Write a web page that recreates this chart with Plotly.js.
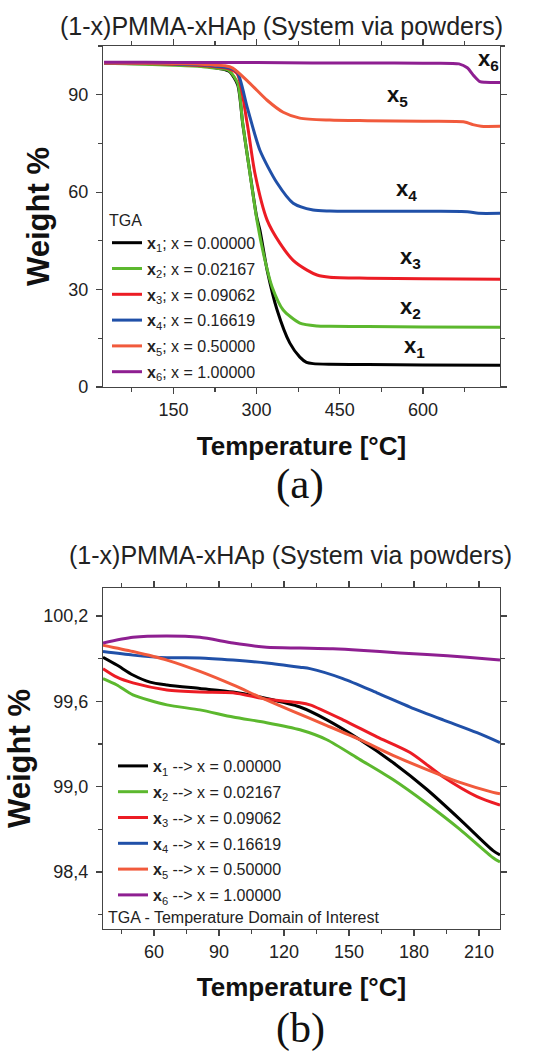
<!DOCTYPE html>
<html>
<head>
<meta charset="utf-8">
<script src="https://cdn.plot.ly/plotly-3.0.1.min.js"></script>
<style>html,body{margin:0;padding:0;background:#fff;}#chart{width:533px;height:1051px;}</style>
</head>
<body>
<div id="chart"></div>
<script>
// ---------- DATA ----------
var seriesNames = ['x1', 'x2', 'x3', 'x4', 'x5', 'x6'];
var subIdx = ['1', '2', '3', '4', '5', '6'];
var fractions = ['0.00000', '0.02167', '0.09062', '0.16619', '0.50000', '1.00000'];
var colors = ['#000000', '#5cb82e', '#ec1c24', '#2050a8', '#f15a3c', '#8e1f91'];

// (a) full TGA range
var tA_x1 = [25, 100, 150, 200, 225, 245, 252, 266, 275, 288, 300, 306, 319, 337, 360, 378, 390, 402, 432, 500, 600, 740];
var wA_x1 = [99.7, 99.5, 99.3, 98.9, 98.3, 97.6, 97.0, 93.0, 81.0, 66.0, 52.5, 48.3, 36.0, 23.7, 13.5, 9.2, 7.6, 7.2, 7.0, 6.9, 6.8, 6.7];
var tA_x2 = [25, 100, 150, 200, 225, 245, 252, 266, 275, 288, 301, 315, 328, 348, 378, 409, 432, 500, 600, 740];
var wA_x2 = [99.7, 99.4, 99.1, 98.7, 98.2, 97.8, 97.2, 93.5, 81.2, 65.8, 51.0, 39.1, 30.8, 23.7, 19.7, 18.8, 18.7, 18.6, 18.5, 18.4];
var tA_x3 = [25, 100, 150, 200, 225, 250, 265, 283, 297, 319, 342, 366, 391, 409, 432, 500, 600, 740];
var wA_x3 = [99.8, 99.6, 99.4, 99.0, 98.6, 98.0, 96.5, 81.2, 65.8, 51.4, 44.3, 39.0, 36.0, 34.5, 33.8, 33.5, 33.3, 33.2];
var tA_x4 = [25, 100, 150, 200, 225, 250, 265, 283, 306, 337, 366, 402, 432, 500, 600, 680, 700, 740];
var wA_x4 = [99.8, 99.7, 99.5, 99.2, 98.8, 98.3, 97.0, 86.2, 72.9, 62.8, 56.6, 54.5, 54.2, 54.1, 54.1, 54.0, 53.5, 53.5];
var tA_x5 = [25, 100, 150, 200, 225, 243, 257, 288, 319, 348, 378, 432, 500, 600, 675, 690, 705, 740];
var wA_x5 = [99.8, 99.7, 99.6, 99.4, 99.1, 98.9, 98.2, 93.5, 88.3, 84.6, 82.8, 82.2, 82.0, 81.8, 81.6, 80.8, 80.3, 80.3];
var tA_x6 = [25, 100, 200, 300, 400, 500, 600, 665, 680, 692, 703, 712, 740];
var wA_x6 = [100.0, 100.0, 99.9, 99.9, 99.8, 99.8, 99.7, 99.5, 98.3, 95.8, 94.0, 93.8, 93.8];

// (b) temperature domain of interest
var tB_x1 = [36.5, 42.9, 50.3, 58.2, 66, 81.2, 96.5, 112, 127.4, 139.8, 155.1, 170.3, 186, 201.2, 216.5, 219.7];
var wB_x1 = [99.91, 99.855, 99.785, 99.735, 99.715, 99.69, 99.665, 99.62, 99.56, 99.47, 99.33, 99.17, 98.98, 98.77, 98.55, 98.52];
var tB_x2 = [36.5, 42.9, 50.3, 66, 81.2, 96.5, 112, 127.4, 139.8, 155.1, 170.3, 186, 201.2, 216.5, 219.7];
var wB_x2 = [99.76, 99.715, 99.645, 99.575, 99.54, 99.49, 99.45, 99.40, 99.33, 99.19, 99.05, 98.88, 98.70, 98.50, 98.47];
var tB_x3 = [36.5, 42.9, 50.3, 66, 81.2, 96.5, 112, 127.4, 132, 147.2, 162.9, 178.2, 193.4, 209.1, 219.7];
var wB_x3 = [99.83, 99.77, 99.73, 99.68, 99.665, 99.66, 99.615, 99.59, 99.575, 99.47, 99.35, 99.24, 99.07, 98.93, 98.87];
var tB_x4 = [36.5, 50.3, 66, 81.2, 96.5, 112, 127.4, 132, 147.2, 162.9, 178.2, 193.4, 209.1, 219.7];
var wB_x4 = [99.95, 99.925, 99.907, 99.905, 99.89, 99.87, 99.84, 99.83, 99.76, 99.66, 99.56, 99.47, 99.38, 99.31];
var tB_x5 = [36.5, 50.3, 66, 81.2, 96.5, 108.9, 124.2, 139.8, 155.1, 170.3, 186, 201.2, 216.5, 219.7];
var wB_x5 = [99.995, 99.95, 99.89, 99.81, 99.715, 99.63, 99.53, 99.43, 99.33, 99.22, 99.12, 99.03, 98.96, 98.95];
var tB_x6 = [36.5, 50.3, 66, 81.2, 96.5, 112, 127.4, 142.6, 155, 173.5, 186, 204.5, 219.7];
var wB_x6 = [100.01, 100.05, 100.06, 100.05, 100.01, 99.98, 99.975, 99.97, 99.96, 99.94, 99.93, 99.91, 99.89];

// tick labels / texts
var titleText = '(1-x)PMMA-xHAp (System via powders)';
var xTitle = 'Temperature [°C]';
var yTitle = 'Weight %';
var panelLabels = ['(a)', '(b)'];
var noteB = 'TGA - Temperature Domain of Interest';
// curve labels in panel (a): [T, W]
var curveLabelT = [584, 577, 577, 571, 555, 719];
var curveLabelW = [12.3, 24.3, 39.7, 60.6, 89.5, 100.6];

// ---------- BUILD ----------
var tA = [tA_x1, tA_x2, tA_x3, tA_x4, tA_x5, tA_x6];
var wA = [wA_x1, wA_x2, wA_x3, wA_x4, wA_x5, wA_x6];
var tB = [tB_x1, tB_x2, tB_x3, tB_x4, tB_x5, tB_x6];
var wB = [wB_x1, wB_x2, wB_x3, wB_x4, wB_x5, wB_x6];

var traces = [];
for (var i = 0; i < 6; i++) {
  traces.push({
    x: tA[i], y: wA[i], xaxis: 'x', yaxis: 'y', type: 'scatter', mode: 'lines',
    line: {color: colors[i], width: 3, shape: 'spline', smoothing: 0.7},
    name: '<b>x</b><sub>' + subIdx[i] + '</sub>; x = ' + fractions[i],
    legend: 'legend', legendgroup: 'a' + i
  });
}
for (var j = 0; j < 6; j++) {
  traces.push({
    x: tB[j], y: wB[j], xaxis: 'x2', yaxis: 'y2', type: 'scatter', mode: 'lines',
    line: {color: colors[j], width: 3, shape: 'spline', smoothing: 0.7},
    name: '<b>x</b><sub>' + subIdx[j] + '</sub> --> x = ' + fractions[j],
    legend: 'legend2', legendgroup: 'b' + j
  });
}

var W = 533, H = 1051;
var axColor = '#444';
var dx = [103 / W, 500 / W];
function py(p) { return 1 - p / H; }

function axisCommon(isX) {
  return {
    showline: true, linecolor: axColor, linewidth: 1.2, mirror: 'ticks',
    ticks: 'outside', ticklen: 6, tickwidth: 1.2, tickcolor: axColor,
    showgrid: false, zeroline: false, tickmode: 'linear',
    tickfont: {size: 18, color: '#222'}, ticklabelstandoff: isX ? 0 : 4,
    title: {font: {size: isX ? 26 : 31, color: '#111', weight: 'bold'}}
  };
}
var xa = Object.assign(axisCommon(true), {domain: dx, anchor: 'y', range: [23, 739], tick0: 0, dtick: 150,
  minor: {ticks: 'outside', ticklen: 3.5, tickcolor: axColor, tick0: 0, dtick: 75, showgrid: false}});
xa.title.text = '<b>' + xTitle + '</b>'; xa.title.standoff = 18;
var ya = Object.assign(axisCommon(false), {domain: [py(387), py(46)], anchor: 'x', range: [0, 105], tick0: 0, dtick: 30,
  minor: {ticks: 'outside', ticklen: 3.5, tickcolor: axColor, tick0: 0, dtick: 15, showgrid: false}});
ya.title.text = '<b>' + yTitle + '</b>'; ya.title.standoff = 9;
var xa2 = Object.assign(axisCommon(true), {domain: dx, anchor: 'y2', range: [36.5, 219.7], tick0: 0, dtick: 30,
  minor: {ticks: 'outside', ticklen: 3.5, tickcolor: axColor, tick0: 0, dtick: 15, showgrid: false}});
xa2.title.text = '<b>' + xTitle + '</b>'; xa2.title.standoff = 17;
var ya2 = Object.assign(axisCommon(false), {domain: [py(929), py(588)], anchor: 'x2', range: [97.999, 100.397], tick0: 98.4, dtick: 0.6,
  tickformat: '.1f',
  minor: {ticks: 'outside', ticklen: 3.5, tickcolor: axColor, tick0: 98.4, dtick: 0.3, showgrid: false}});
ya2.title.text = '<b>' + yTitle + '</b>'; ya2.title.standoff = 3;

var annotations = [
  {text: titleText, xref: 'paper', yref: 'paper', x: 281 / W, y: py(26), xanchor: 'center', yanchor: 'middle', showarrow: false, font: {size: 25, color: '#222'}},
  {text: titleText, xref: 'paper', yref: 'paper', x: 290 / W, y: py(555), xanchor: 'center', yanchor: 'middle', showarrow: false, font: {size: 25, color: '#222'}},
  {text: panelLabels[0], xref: 'paper', yref: 'paper', x: 300 / W, y: py(484), xanchor: 'center', yanchor: 'middle', showarrow: false, font: {size: 43, family: 'Liberation Serif, Times New Roman, serif', color: '#111'}},
  {text: panelLabels[1], xref: 'paper', yref: 'paper', x: 300 / W, y: py(1028), xanchor: 'center', yanchor: 'middle', showarrow: false, font: {size: 42, family: 'Liberation Serif, Times New Roman, serif', color: '#111'}},
  {text: noteB, xref: 'paper', yref: 'paper', x: 106 / W, y: py(917), xanchor: 'left', yanchor: 'middle', showarrow: false, font: {size: 16, color: '#222'}}
];
for (var k = 0; k < 6; k++) {
  annotations.push({text: '<b>x</b><sub><b>' + subIdx[k] + '</b></sub>', xref: 'x', yref: 'y', x: curveLabelT[k], y: curveLabelW[k],
    xanchor: 'center', yanchor: 'middle', showarrow: false, font: {size: 22, color: '#111'}});
}

var layout = {
  width: W, height: H, margin: {l: 0, r: 0, t: 0, b: 0},
  paper_bgcolor: '#ffffff', plot_bgcolor: '#ffffff',
  separators: ',.',
  font: {family: 'Liberation Sans, Arial, sans-serif', size: 18, color: '#222'},
  showlegend: true,
  xaxis: xa, yaxis: ya, xaxis2: xa2, yaxis2: ya2,
  legend: {x: 107 / W, xanchor: 'left', y: py(205), yanchor: 'top', bgcolor: 'rgba(0,0,0,0)', borderwidth: 0,
    font: {size: 16, color: '#222'}, title: {text: 'TGA', font: {size: 16, color: '#222'}}, tracegroupgap: 2},
  legend2: {x: 113 / W, xanchor: 'left', y: py(749), yanchor: 'top', bgcolor: 'rgba(0,0,0,0)', borderwidth: 0,
    font: {size: 16, color: '#222'}, tracegroupgap: 2},
  annotations: annotations
};

Plotly.newPlot('chart', traces, layout, {staticPlot: true, displayModeBar: false});
</script>
</body>
</html>
